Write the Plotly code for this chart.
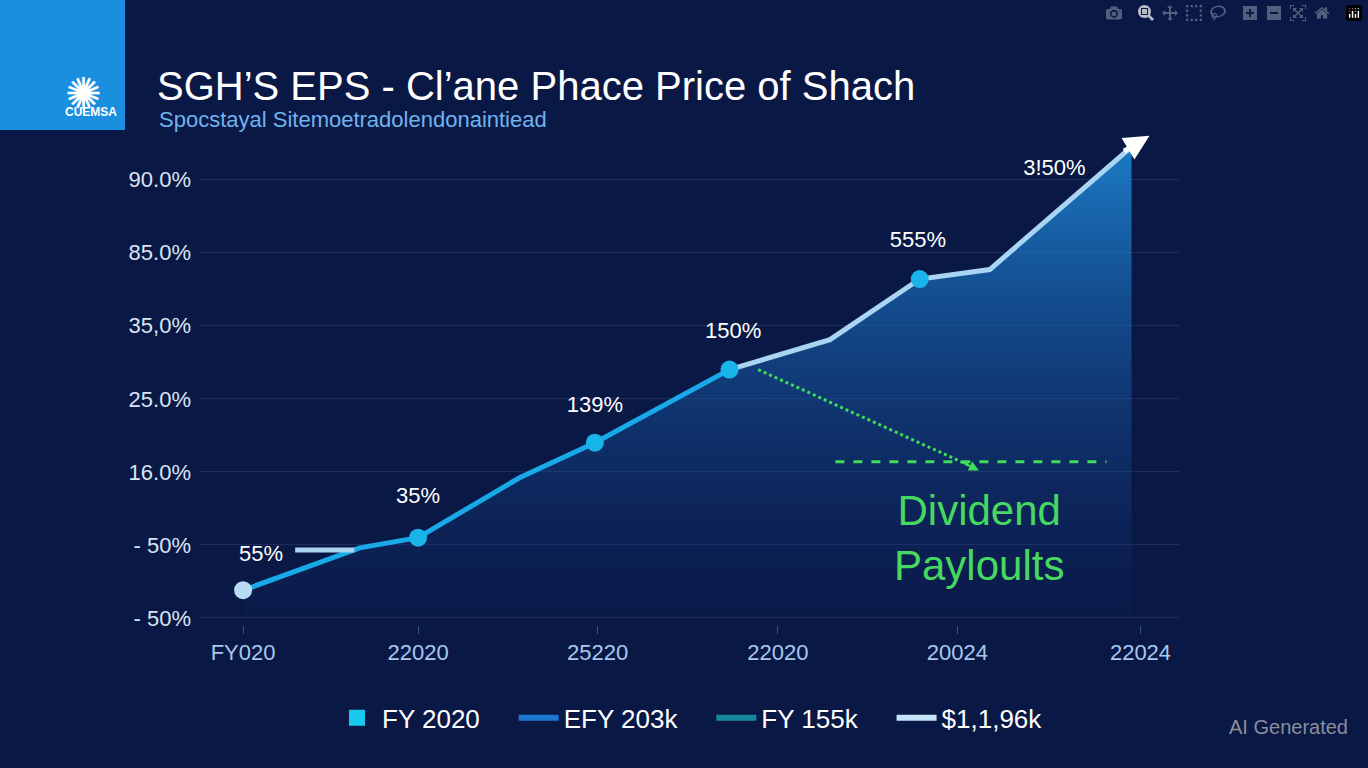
import plotly.graph_objects as go

# data (axis units)
x_line = [0, 0.65, 0.975, 1.54, 1.96, 2.71, 3.27, 3.77, 4.16, 4.95]
y_line = [0.38, 0.96, 1.10, 1.92, 2.40, 3.40, 3.81, 4.64, 4.77, 6.45]
mark_x = [0, 0.975, 1.96, 2.71, 3.77]
mark_y = [0.38, 1.10, 2.40, 3.40, 4.64]
pt_labels = ["55%", "35%", "139%", "150%", "555%", "3!50%"]
lab_x = [0.1, 0.975, 1.96, 2.73, 3.76, 4.52]
lab_y = [0.86, 1.65, 2.90, 3.91, 5.15, 6.14]
y_ticks = [0, 1, 2, 3, 4, 5, 6]
y_text = ["- 50%", "- 50%", "16.0%", "25.0%", "35,0%", "85.0%", "90.0%"]
x_ticks = [0, 0.975, 1.975, 2.98, 3.98, 5.0]
x_text = ["FY020", "22020", "25220", "22020", "20024", "22024"]
legend_names = ["FY 2020    ", "EFY 203k    ", "FY 155k    ", "$1,1,96k"]

fig = go.Figure()
fig.add_trace(go.Scatter(x=x_line, y=y_line, fill="tozeroy", mode="none",
    fillgradient=dict(type="vertical", colorscale=[[0, "rgba(20,60,140,0.05)"], [1, "rgba(30,140,220,0.85)"]]),
    showlegend=False, hoverinfo="skip"))
fig.add_trace(go.Scatter(x=x_line[:6], y=y_line[:6], mode="lines",
    line=dict(color="#19a8e8", width=5), showlegend=False))
fig.add_trace(go.Scatter(x=x_line[5:], y=y_line[5:], mode="lines",
    line=dict(color="#a9d4f2", width=5), showlegend=False))
fig.add_trace(go.Scatter(x=[0.29, 0.62], y=[0.93, 0.93], mode="lines",
    line=dict(color="#a9d4f2", width=5), showlegend=False))
fig.add_trace(go.Scatter(x=mark_x, y=mark_y, mode="markers",
    marker=dict(size=18, color=["#b8dcf5", "#19b4ea", "#19b4ea", "#19b4ea", "#19b4ea"]), showlegend=False))
fig.add_trace(go.Scatter(x=lab_x, y=lab_y, mode="text", text=pt_labels,
    textfont=dict(color="white", size=22, family="Liberation Sans"), showlegend=False))
fig.add_trace(go.Scatter(x=[2.87, 4.08], y=[3.4, 2.05], mode="lines",
    line=dict(color="#3ddc5a", width=3, dash="dot"), showlegend=False))
fig.add_trace(go.Scatter(x=[3.3, 4.81], y=[2.14, 2.14], mode="lines",
    line=dict(color="#3ddc5a", width=3, dash="dash"), showlegend=False))
fig.add_trace(go.Scatter(x=[None], y=[None], mode="markers", name=legend_names[0],
    marker=dict(symbol="square", size=22, color="#19c8ee")))
fig.add_trace(go.Scatter(x=[None], y=[None], mode="lines", name=legend_names[1],
    line=dict(color="#1a78d0", width=6)))
fig.add_trace(go.Scatter(x=[None], y=[None], mode="lines", name=legend_names[2],
    line=dict(color="#16889e", width=6)))
fig.add_trace(go.Scatter(x=[None], y=[None], mode="lines", name=legend_names[3],
    line=dict(color="#c8e4f8", width=6)))

fig.add_annotation(x=5.05, y=6.6, ax=4.9, ay=6.38, xref="x", yref="y", axref="x", ayref="y",
    showarrow=True, arrowhead=2, arrowsize=1.0, arrowwidth=5, arrowcolor="white", text="")
fig.add_annotation(x=4.1, y=2.02, ax=4.0, ay=2.14, xref="x", yref="y", axref="x", ayref="y",
    showarrow=True, arrowhead=2, arrowwidth=2, arrowcolor="#3ddc5a", text="")
fig.add_annotation(x=4.1, y=1.1, xref="x", yref="y", showarrow=False,
    text="Dividend<br>Payloults", font=dict(color="#46d860", size=42, family="Liberation Sans"),
    align="center")

fig.add_shape(type="rect", xref="paper", yref="paper", x0=-200/980, x1=-75/980, y0=1, y1=1+130/495,
    fillcolor="#1a8fe0", line_width=0, layer="below")
fig.add_annotation(xref="paper", yref="paper", x=-137/980, y=1+70/495, showarrow=False,
    text="✺", font=dict(color="white", size=44))
fig.add_annotation(xref="paper", yref="paper", x=-137/980, y=1+27/495, showarrow=False,
    text="<b>CUEMSA</b>", font=dict(color="white", size=12, family="Liberation Sans"))
fig.add_annotation(xref="paper", yref="paper", x=-45/980, y=1+68/495, xanchor="left", showarrow=False,
    text="SGH’S EPS - Cl’ane Phace Price of Shach", font=dict(color="white", size=40, family="Liberation Sans"))
fig.add_annotation(xref="paper", yref="paper", x=-43/980, y=1+25/495, xanchor="left", showarrow=False,
    text="Spocstayal Sitemoetradolendonaintiead", font=dict(color="#6fb3ee", size=22, family="Liberation Sans"))
fig.add_annotation(xref="paper", yref="paper", x=1+170/980, y=-115/495, xanchor="right", showarrow=False,
    text="AI Generated", font=dict(color="#8a8f99", size=20, family="Liberation Sans"))

fig.update_layout(
    width=1368, height=768, margin=dict(l=200, r=188, t=130, b=143),
    paper_bgcolor="#0a1845", plot_bgcolor="rgba(0,0,0,0)",
    xaxis=dict(range=[-0.24, 5.22], tickvals=x_ticks, ticktext=x_text, showgrid=False,
        zeroline=False, ticks="outside", ticklen=8, tickcolor="#3a4f80",
        tickfont=dict(color="#a8c8f0", size=22, family="Liberation Sans")),
    yaxis=dict(range=[-0.096, 6.68], tickvals=y_ticks, ticktext=y_text, gridcolor="rgba(120,140,200,0.18)",
        zeroline=False, tickfont=dict(color="#d8e4f4", size=22, family="Liberation Sans"), ticklabelstandoff=8),
    legend=dict(orientation="h", x=0.5, xanchor="center", y=-0.14, yanchor="top",
        font=dict(color="white", size=26, family="Liberation Sans"), itemwidth=40),
)
fig.write_html("out.html", post_script="document.body.style.margin='0';document.body.style.background='#0a1845';")
